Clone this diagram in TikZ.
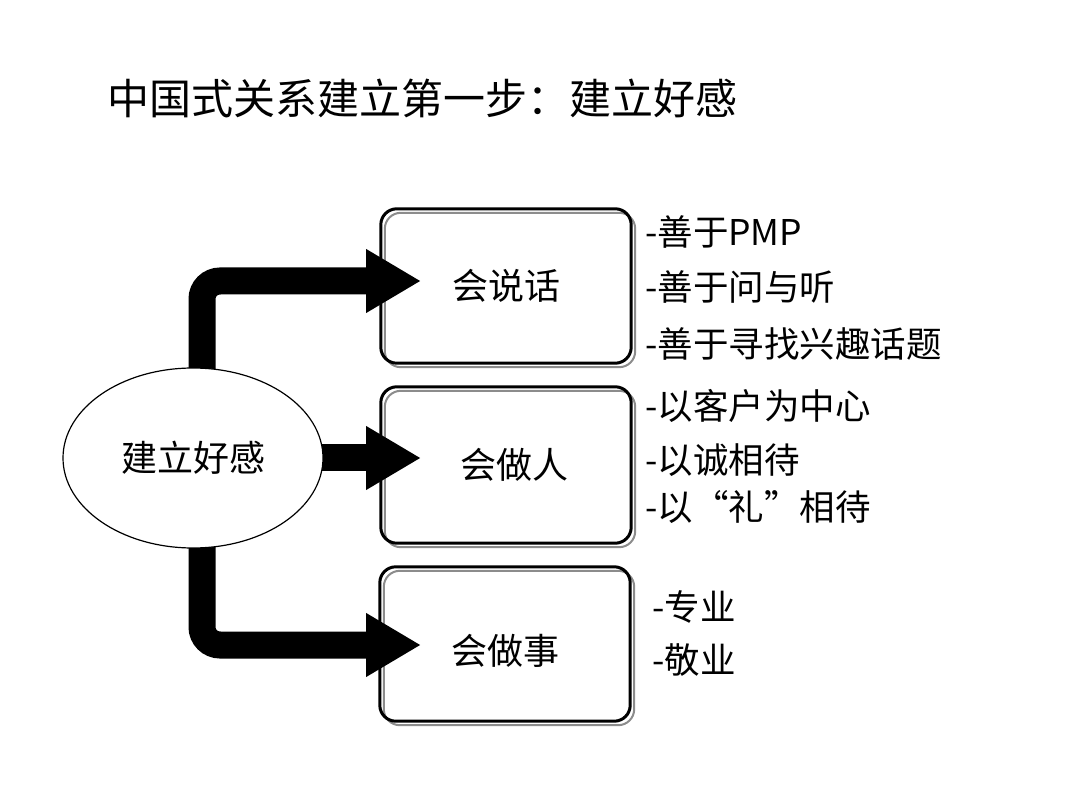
\documentclass[tikz,border=0pt]{standalone}
\usepackage{fontspec}
\setmainfont{Noto Sans CJK SC}
\usetikzlibrary{arrows.meta,shapes.geometric}
\begin{document}
\begin{tikzpicture}[x=1pt,y=-1pt,
  boxfill/.style={fill=white, draw=none, rounded corners=16pt, minimum width=250pt, minimum height=154pt, inner sep=0pt, font=\fontsize{36}{40}\selectfont},
  shadowline/.style={draw=black!45, line width=2pt, rounded corners=16pt},
  borderline/.style={draw=black, line width=3pt, rounded corners=16pt},
  bigarrow/.style={line width=27pt, rounded corners=18pt, -{Triangle[length=55pt,width=60pt]}},
  item/.style={anchor=west, inner sep=0pt, font=\fontsize{35.5}{40}\selectfont},
  boxtext/.style={inner sep=0pt, font=\fontsize{36}{40}\selectfont},
  ell/.style={ellipse, draw=black, line width=1.2pt, fill=white, minimum width=260pt, minimum height=180pt, inner sep=0pt, font=\fontsize{36}{40}\selectfont}
]
\useasboundingbox (0,0) rectangle (1080,810);
\fill[white] (0,0) rectangle (1080,810);

\node[anchor=west, inner sep=0pt, font=\fontsize{42}{46}\selectfont] (title) at (107,98) {中国式关系建立第一步：建立好感};

% boxes
\foreach \n/\cx/\cy/\h in {b1/506/286/154, b2/506/465/156, b3/505/644/154}{
  \node[boxfill, minimum height=\h pt] (\n) at (\cx,\cy) {};
  \draw[shadowline] ([shift={(4pt,-4pt)}]\n.north west) rectangle ([shift={(4pt,-4pt)}]\n.south east);
  \draw[borderline] (\n.north west) rectangle (\n.south east);
}
\node[boxtext] (t1txt) at (b1.center) {会说话};
\node[boxtext] (t2txt) at ([xshift=8pt]b2.center) {会做人};
\node[boxtext] (t3txt) at ([yshift=-7pt]b3.center) {会做事};

% ellipse position
\coordinate (ec) at (193,458);
\coordinate (s1) at (202,458);
\coordinate (tip1) at (421,281);
\coordinate (tip2) at (421,458);
\coordinate (tip3) at (421,645);

% arrows
\draw[bigarrow] (s1) |- (tip1);
\draw[bigarrow] (ec) -- (tip2);
\draw[bigarrow] (s1) |- (tip3);

\node[ell] (e) at (ec) {建立好感};

% lists
\node[item] (l1) at (645,232) {-善于PMP};
\node[item] (l2) at (645,287) {-善于问与听};
\node[item] (l3) at (645,344) {-善于寻找兴趣话题};
\node[item] (l4) at (645,406) {-以客户为中心};
\node[item] (l5) at (645,460) {-以诚相待};
\node[item] (l6) at (645,507) {-以“礼”相待};
\node[item] (l7) at (652,607) {-专业};
\node[item] (l8) at (652,660) {-敬业};
\end{tikzpicture}
\end{document}
